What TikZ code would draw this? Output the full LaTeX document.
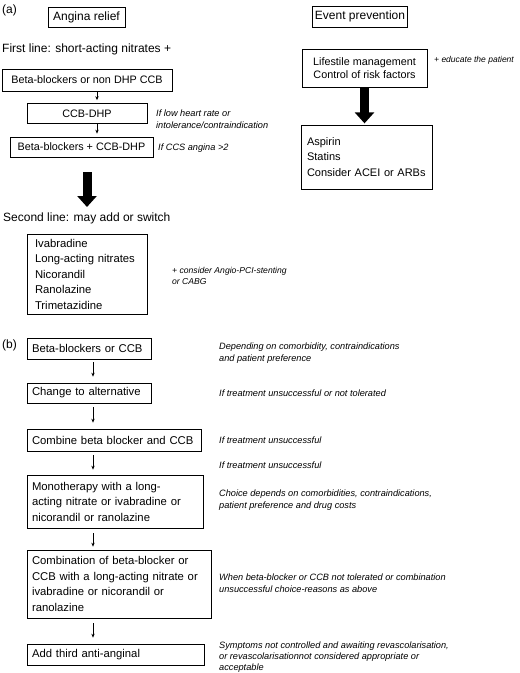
\documentclass[tikz,border=0pt]{standalone}
\usepackage{fontspec}
\setmainfont{Liberation Sans}
\usetikzlibrary{arrows.meta}
\begin{document}
\begin{tikzpicture}[x=1pt,y=-1pt,
  box/.style={draw, line width=0.7pt, inner sep=0pt},
  boxa/.style={box, font=\fontsize{10.8}{13}\selectfont, align=center},
  boxl/.style={box, font=\fontsize{11.3}{15.5}\selectfont, align=left, inner xsep=5pt},
  head/.style={anchor=west, inner sep=0pt, font=\fontsize{12}{14}\selectfont},
  note/.style={anchor=west, inner sep=0pt, align=left, font=\fontsize{9.2}{11.8}\selectfont\itshape},
  arr/.style={line width=0.6pt, -{Stealth[length=4pt,width=3.4pt]}},
  bigarr/.style={line width=9pt, -{Triangle[length=11pt,width=19pt]}}
]
\useasboundingbox (0,0) rectangle (520,673);
% ---------- (a) ----------
\node[head] (la) at (2,10) {(a)};
\node[boxa, font=\fontsize{12}{14}\selectfont, minimum width=77, minimum height=20] (angina) at (86.5,17) {Angina relief};
\node[boxa, font=\fontsize{12}{14}\selectfont, minimum width=95, minimum height=21] (event) at (360,16.5) {Event prevention};
\node[head] (first) at (2,49) {First line: short-acting nitrates +};
\node[boxa, minimum width=170, minimum height=22] (b1) at (87,80) {Beta-blockers or non DHP CCB};
\node[boxa, minimum width=120, minimum height=20] (b2) at (87,113.5) {CCB-DHP};
\node[boxa, minimum width=143, minimum height=20] (b3) at (81.5,147) {Beta-blockers + CCB-DHP};
\node[note] (n1) at (156,119.5) {If low heart rate or\\intolerance/contraindication};
\node[note] (n2) at (158,148) {If CCS angina >2};
\coordinate (ax) at (97,0);
\draw[arr, shorten >=3pt] (b1.south -| ax) -- (b2.north -| ax);
\draw[arr, shorten >=3pt] (b2.south -| ax) -- (b3.north -| ax);
\coordinate (ba1) at (87,172);
\coordinate (ba2) at (87,207);
\draw[bigarr] (ba1) -- (ba2);
\node[head] (second) at (3,218) {Second line: may add or switch};
\node[boxl, text width=104, minimum height=80, inner xsep=8pt] (list) at (87,274) {Ivabradine\\Long-acting nitrates\\Nicorandil\\Ranolazine\\Trimetazidine};
\node[note, font=\fontsize{8.6}{11.8}\selectfont\itshape] (n3) at (172,276) {+ consider Angio-PCI-stenting\\or CABG};
% right
\node[boxa, minimum width=125, minimum height=38] (life) at (364.5,68) {Lifestile management\\Control of risk factors};
\node[note, font=\fontsize{8.5}{11}\selectfont\itshape] (n4) at (434,60) {+ educate the patient};
\draw[bigarr] (life.south) -- ++(0,36) coordinate (bb2);
\node[boxl, font=\fontsize{11}{15.5}\selectfont, text width=119, minimum height=64, inner xsep=6pt] (asp) at (366.5,157) {Aspirin\\Statins\\Consider ACEI or ARBs};
% ---------- (b) ----------
\node[head] (lb) at (2,345) {(b)};
\node[boxl, text width=114, minimum height=21] (c1) at (89,348.5) {Beta-blockers or CCB};
\node[boxl, text width=114, minimum height=20] (c2) at (89,393) {Change to alternative};
\node[boxl, text width=164, minimum height=22] (c3) at (114,440) {Combine beta blocker and CCB};
\node[boxl, text width=166, minimum height=53] (c4) at (115,501.5) {Monotherapy with a long-\\acting nitrate or ivabradine or\\nicorandil or ranolazine};
\node[boxl, text width=174, minimum height=68] (c5) at (119,584) {Combination of beta-blocker or\\CCB with a long-acting nitrate or\\ivabradine or nicorandil or\\ranolazine};
\node[boxl, text width=167, minimum height=21] (c6) at (115.5,654.5) {Add third anti-anginal};
\coordinate (bx) at (93,0);
\draw[arr, shorten <=3pt, shorten >=6pt] (c1.south -| bx) -- (c2.north -| bx);
\draw[arr, shorten <=4pt, shorten >=6pt] (c2.south -| bx) -- (c3.north -| bx);
\draw[arr, shorten <=4pt, shorten >=5pt] (c3.south -| bx) -- (c4.north -| bx);
\draw[arr, shorten <=5pt, shorten >=3pt] (c4.south -| bx) -- (c5.north -| bx);
\draw[arr, shorten <=5pt, shorten >=6pt] (c5.south -| bx) -- (c6.north -| bx);
\node[note] (m1) at (219,353.5) {Depending on comorbidity, contraindications\\and patient preference};
\node[note] (m2) at (219,393) {If treatment unsuccessful or not tolerated};
\node[note] (m3) at (219,440) {If treatment unsuccessful};
\node[note] (m4) at (219,465) {If treatment unsuccessful};
\node[note] (m5) at (219,500) {Choice depends on comorbidities, contraindications,\\patient preference and drug costs};
\node[note] (m6) at (219,583) {When beta-blocker or CCB not tolerated or combination\\unsuccessful choice-reasons as above};
\node[note, font=\fontsize{9.2}{11}\selectfont\itshape] (m7) at (219,657) {Symptoms not controlled and awaiting revascolarisation,\\or revascolarisationnot considered appropriate or\\acceptable};
\end{tikzpicture}
\end{document}
